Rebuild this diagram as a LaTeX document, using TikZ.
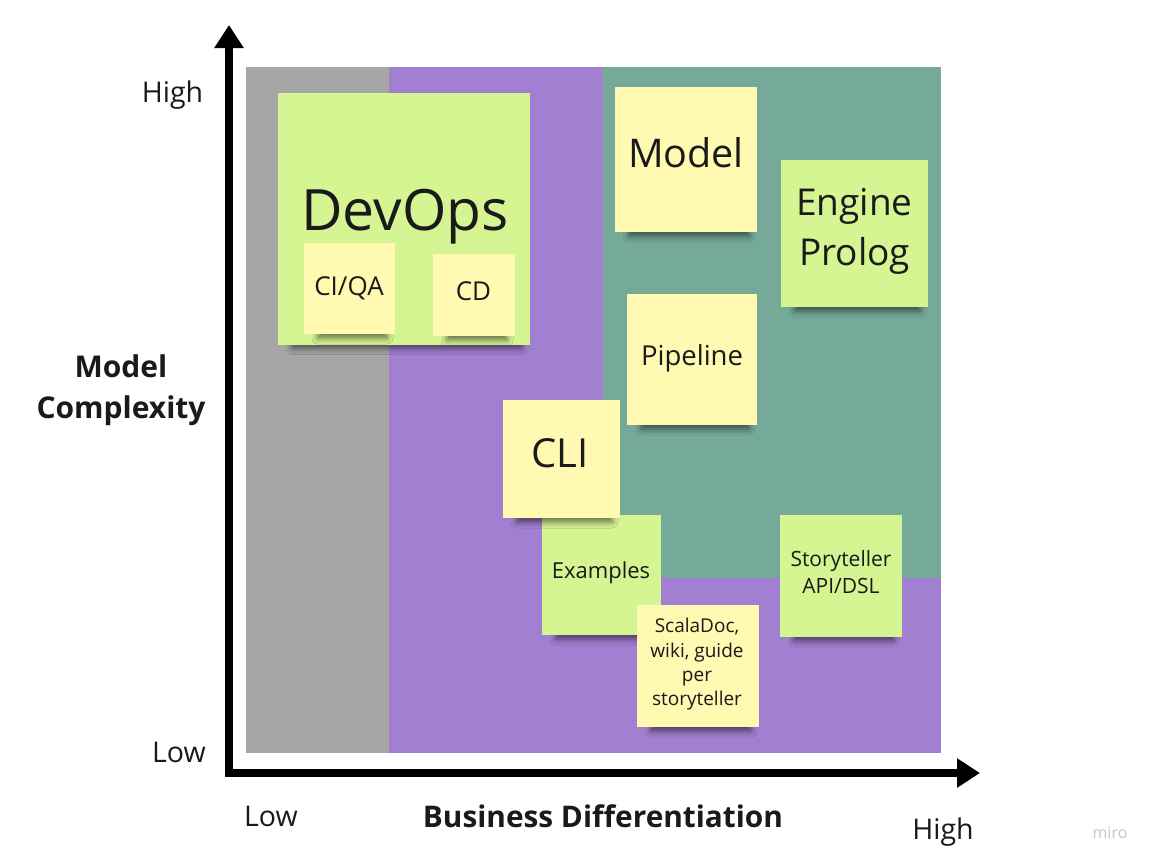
\documentclass[tikz,border=0pt]{standalone}
\usepackage{fontspec}
\setmainfont{Open Sans}
\usetikzlibrary{arrows.meta,shadows.blur}
\definecolor{cgray}{RGB}{166,166,166}
\definecolor{cpurple}{RGB}{162,128,209}
\definecolor{cteal}{RGB}{118,170,152}
\definecolor{cgreen}{RGB}{213,244,146}
\definecolor{cyellow}{RGB}{255,249,177}
\definecolor{ctext}{RGB}{26,26,26}
\definecolor{cmiro}{RGB}{196,196,210}
\newcommand{\fsz}[1]{\fontsize{#1}{#1}\selectfont}
% name, cx, cy, w, h, colour
\newcommand{\sticky}[6]{%
  \path[noteshadow] ({#2-#4/2+14},{#3+#5/2-12}) rectangle ({#2+#4/2-8},{#3+#5/2+4});
  \node[note,fill=#6,minimum width=#4,minimum height=#5] (#1) at (#2,#3) {};}
\begin{document}
\begin{tikzpicture}[x=1pt,y=-1pt,
  note/.style={draw=none,inner sep=0pt,outer sep=0pt},
  noteshadow/.style={blur shadow={shadow xshift=0pt,shadow yshift=0pt,
      shadow opacity=55,shadow blur radius=6pt}},
  lbl/.style={inner sep=0pt,outer sep=0pt,text=ctext,anchor=base},
  axis/.style={line width=7.5pt,draw=black,
    {Triangle[width=28pt,length=23pt]}-{Triangle[width=28pt,length=23pt]}}
]
\useasboundingbox (0,0) rectangle (1155,865);
\fill[white] (0,0) rectangle (1155,865);

% background regions
\fill[cgray] (246,67) rectangle (389,753);
\fill[cpurple] (388.5,67) rectangle (941,753);
\fill[cteal] (603,67) rectangle (941,578);

% axes
\coordinate (ytip) at (229,25);
\coordinate (corner) at (229,773);
\coordinate (xtip) at (980,773);
\draw[axis] (ytip) -- (corner) -- (xtip);

% axis labels
\node[lbl,font=\fsz{28.5}] (yhigh) at (172.5,102) {High};
\node[lbl,font=\fsz{28.5}] (ylow) at (179,762) {Low};
\node[lbl,font=\fsz{28.5}] (xlow) at (271,826) {Low};
\node[lbl,font=\fsz{28.5}] (xhigh) at (943,839) {High};
\node[lbl,font=\bfseries\fsz{30}] (ytitle1) at (121,377) {Model};
\node[lbl,font=\bfseries\fsz{30}] (ytitle2) at (121,418) {Complexity};
\node[lbl,font=\bfseries\fsz{29.8}] (xtitle) at (603,827) {Business Differentiation};
\node[lbl,font=\fsz{16},text=cmiro] (miro) at (1110,838) {miro};

% sticky notes
\sticky{devops}{404}{218.5}{252}{252}{cgreen}
\node[lbl,font=\fsz{57}] (devopst) at (405,230) {DevOps};
\sticky{ciqa}{349.5}{288.5}{91}{91}{cyellow}
\node[lbl,font=\fsz{26}] (ciqat) at (349,295) {CI/QA};
\sticky{cd}{474}{295}{82}{82}{cyellow}
\node[lbl,font=\fsz{26}] (cdt) at (473.5,300) {CD};

\sticky{model}{686}{159.5}{142}{145}{cyellow}
\node[lbl,font=\fsz{39.5}] (modelt) at (686,167) {Model};

\sticky{engine}{854.5}{233.5}{147}{147}{cgreen}
\node[lbl,font=\fsz{37}] (enginet1) at (854.5,215) {Engine};
\node[lbl,font=\fsz{37}] (enginet2) at (854.5,265) {Prolog};

\sticky{pipeline}{692}{359.5}{130}{131}{cyellow}
\node[lbl,font=\fsz{27.5}] (pipelinet) at (692,365) {Pipeline};

\sticky{examples}{601.5}{575}{119}{120}{cgreen}
\node[lbl,font=\fsz{22}] (examplest) at (601,578) {Examples};

\sticky{cli}{561.5}{459}{117}{118}{cyellow}
\node[lbl,font=\fsz{40}] (clit) at (560,467) {CLI};

\sticky{scaladoc}{698}{666}{122}{122}{cyellow}
\node[lbl,font=\fsz{19}] (scalat1) at (697,632) {ScalaDoc,};
\node[lbl,font=\fsz{19}] (scalat2) at (697,657) {wiki, guide};
\node[lbl,font=\fsz{19}] (scalat3) at (697,681) {per};
\node[lbl,font=\fsz{19}] (scalat4) at (697,705) {storyteller};

\sticky{story}{841}{576}{122}{122}{cgreen}
\node[lbl,font=\fsz{21}] (storyt1) at (841,566) {Storyteller};
\node[lbl,font=\fsz{21}] (storyt2) at (841,593) {API/DSL};
\end{tikzpicture}
\end{document}
